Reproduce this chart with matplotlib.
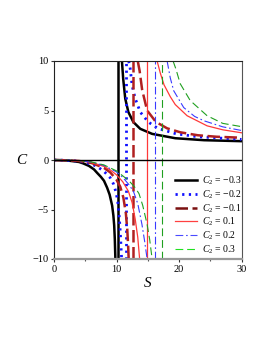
import matplotlib
matplotlib.use("Agg")
import matplotlib.pyplot as plt

plt.rcParams['font.family'] = ['Liberation Serif', 'DejaVu Serif']
plt.rcParams['mathtext.fontset'] = 'custom'
plt.rcParams['mathtext.rm'] = 'Liberation Serif'
plt.rcParams['mathtext.it'] = 'Liberation Serif:italic'

# ---- data ----
labels = ["$C_2$ = \u22120.3", "$C_2$ = \u22120.2", "$C_2$ = \u22120.1",
          "$C_2$ = 0.1", "$C_2$ = 0.2", "$C_2$ = 0.3"]

# positions of the vertical (asymptote) jumps
asymptotes = [10.3, 11.45, 12.6, 14.9, 16.1, 17.3]

# left (negative) branches
left_S_m03 = [0, 2, 4, 4.7, 5.6, 6.4, 6.9, 7.5, 8.0, 8.5, 8.9, 9.3, 9.5, 9.63, 9.73, 9.82]
left_C_m03 = [0, -0.04, -0.2, -0.35, -0.6, -0.95, -1.3, -1.7, -2.1, -2.8, -3.5, -4.6, -5.6, -6.6, -8.0, -10]
left_S_m02 = [0, 2, 4, 6, 7, 8, 9, 9.5, 9.9, 10.2, 10.45, 10.6, 10.72, 10.82]
left_C_m02 = [0, -0.03, -0.12, -0.4, -0.7, -1.15, -1.8, -2.4, -3.2, -4.2, -5.8, -7.2, -8.7, -10]
left_S_m01 = [0, 2, 4, 6, 8, 9, 10, 10.6, 11.1, 11.5, 11.72, 11.85, 11.95]
left_C_m01 = [0, -0.03, -0.1, -0.3, -0.8, -1.25, -2.0, -2.7, -3.8, -5.4, -7.0, -8.5, -10]
left_S_p01 = [0, 2, 4, 6, 8, 9, 10, 11, 11.9, 12.5, 13.0, 13.4, 13.7]
left_C_p01 = [0, -0.02, -0.08, -0.25, -0.65, -1.0, -1.5, -2.2, -3.15, -4.3, -6.0, -7.8, -10]
left_S_p02 = [0, 2, 4, 6, 8, 10, 11, 12, 12.7, 13.4, 14.07, 14.5, 14.9]
left_C_p02 = [0, -0.02, -0.07, -0.22, -0.55, -1.2, -1.75, -2.5, -3.15, -4.4, -6.5, -8.2, -10]
left_S_p03 = [0, 2, 4, 6, 8, 10, 11, 12, 13, 13.6, 14.2, 14.9, 15.3, 15.7]
left_C_p03 = [0, -0.02, -0.06, -0.2, -0.5, -1.1, -1.6, -2.1, -2.8, -3.4, -4.6, -6.5, -8.0, -10]

# right (positive) branches
right_S_m03 = [10.87, 11.07, 11.4, 11.9, 12.7, 13.8, 15.7, 19.4, 24, 30]
right_C_m03 = [10, 8.2, 6.2, 4.84, 3.83, 3.15, 2.64, 2.2, 2.0, 1.9]
right_S_m02 = [11.95, 12.2, 12.5, 13.0, 13.8, 15.1, 16.6, 19.5, 23, 30]
right_C_m02 = [10, 9.2, 7.5, 6.2, 4.84, 3.83, 3.2, 2.65, 2.35, 2.08]
right_S_m01 = [13.4, 13.7, 14.1, 14.9, 16.3, 18.1, 20.2, 23, 26, 30]
right_C_m01 = [10, 9.0, 7.1, 5.0, 3.85, 3.2, 2.8, 2.5, 2.35, 2.25]
right_S_p01 = [16.5, 17.0, 17.6, 18.6, 19.4, 21.3, 24.5, 27, 30]
right_C_p01 = [10, 8.8, 7.6, 6.4, 5.6, 4.47, 3.45, 3.05, 2.75]
right_S_p02 = [18.1, 18.6, 19.15, 20.75, 22.5, 24, 27, 30]
right_C_p02 = [10, 8.3, 7.0, 5.3, 4.4, 3.96, 3.35, 2.98]
right_S_p03 = [19.05, 19.5, 20.2, 21.8, 24.5, 27, 30]
right_C_p03 = [10, 9.2, 7.7, 6.0, 4.47, 3.7, 3.37]

x_ticks = [0, 10, 20, 30]
x_minor = [5, 15, 25]
y_ticks = [-10, -5, 0, 5, 10]

# ---- styles ----
styles = [
    dict(color='black', lw=1.8, ls='-'),
    dict(color='#1010ff', lw=2.0, ls=(0, (0.8, 1.6))),
    dict(color='#b02020', lw=1.8, ls=(0, (5, 1.8))),
    dict(color='#ff3838', lw=0.9, ls='-'),
    dict(color='#3a3aff', lw=0.8, ls=(0, (7, 2.5, 1.5, 2.5))),
    dict(color='#20a020', lw=0.8, ls=(0, (7, 3.5))),
]
legend_colors = ['black', '#1010ff', '#7a1010', '#ff4040', '#4a4aff', '#20e020']

lefts = [(left_S_m03, left_C_m03), (left_S_m02, left_C_m02), (left_S_m01, left_C_m01),
         (left_S_p01, left_C_p01), (left_S_p02, left_C_p02), (left_S_p03, left_C_p03)]
rights = [(right_S_m03, right_C_m03), (right_S_m02, right_C_m02), (right_S_m01, right_C_m01),
          (right_S_p01, right_C_p01), (right_S_p02, right_C_p02), (right_S_p03, right_C_p03)]

fig = plt.figure(figsize=(2.66, 3.44), dpi=100)
ax = fig.add_axes([54 / 266, 85 / 344, 187.5 / 266, 198 / 344])

handles = []
for i in range(6):
    st = styles[i]
    ax.plot(*lefts[i], **st)
    ax.plot(*rights[i], **st)
    ax.axvline(asymptotes[i], **st)
    h, = ax.plot([], [], color=legend_colors[i], lw=st['lw'], ls=st['ls'], label=labels[i])
    handles.append(h)

ax.axhline(0, color='black', lw=1.0, zorder=5)

ax.set_xlim(0, 30)
ax.set_ylim(-10, 10)
ax.set_xticks(x_ticks)
ax.set_xticks(x_minor, minor=True)
ax.set_yticks(y_ticks)
ax.tick_params(axis='both', which='major', length=2.5, width=0.8, labelsize=7.5, pad=1.5, color='#333333')
ax.tick_params(axis='x', which='minor', length=1.5, width=0.8, color='#555555')

for side in ['left', 'top']:
    ax.spines[side].set_color('#222222')
    ax.spines[side].set_linewidth(0.8)
ax.spines['right'].set_color('#555555')
ax.spines['right'].set_linewidth(0.8)
ax.spines['bottom'].set_color('#999999')
ax.spines['bottom'].set_linewidth(1.6)

ax.set_xlabel('$S$', fontsize=11, labelpad=2)
ax.yaxis.set_label_coords(-0.17, 0.5)
ax.set_ylabel('$C$', fontsize=11, rotation=0, va='center', ha='center')

leg = ax.legend(handles=handles, loc='upper left', bbox_to_anchor=(0.645, 0.425),
                frameon=False, fontsize=7.0, handlelength=2.3, handletextpad=0.45,
                labelspacing=0.12, borderpad=0, borderaxespad=0)

fig.savefig('out.png', dpi=100)
